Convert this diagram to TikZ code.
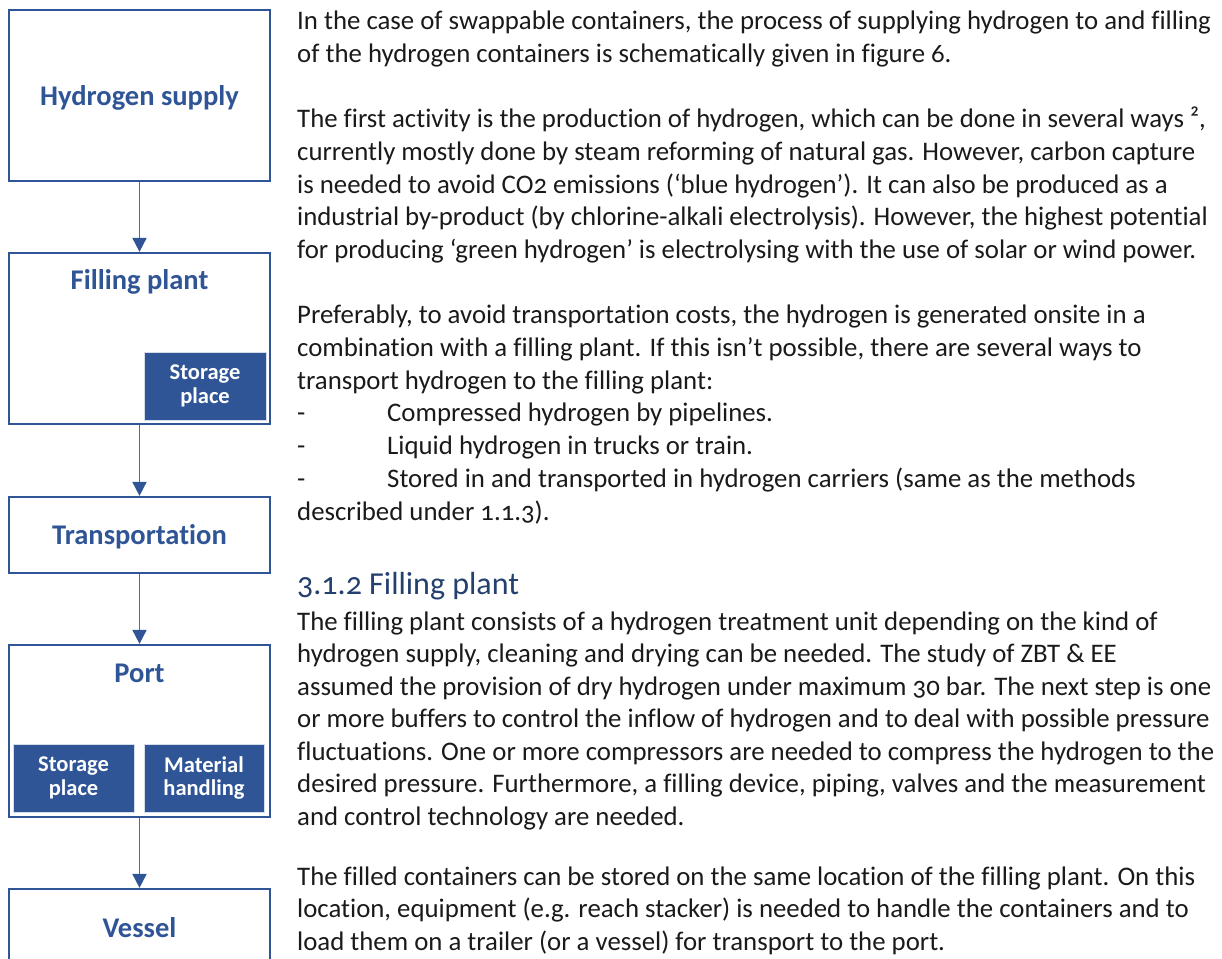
\documentclass[tikz,border=0pt]{standalone}
\usepackage{fontspec}
\setmainfont{Carlito}[Numbers=OldStyle,Ligatures=NoCommon]
\usetikzlibrary{arrows.meta}
\definecolor{boxblue}{HTML}{2F5597}
\definecolor{arrblue}{HTML}{4A6DAA}
\definecolor{bodytext}{HTML}{1A1A1A}
\definecolor{headblue}{HTML}{24406E}
\tikzset{
  box/.style={draw=boxblue, line width=2.2pt, minimum width=261pt, inner sep=0pt, fill=white},
  boxtitle/.style={text=boxblue, inner sep=0pt, font=\bfseries\fontsize{28.5}{31}\selectfont},
  subbox/.style={fill=boxblue, draw=white!80!boxblue, line width=1pt, text=white, inner sep=0pt,
    align=center, font=\bfseries\fontsize{22.5}{24}\selectfont},
  body/.style={anchor=base west, inner sep=0pt, text=bodytext, font=\fontsize{26.8}{30}\selectfont},
  heading/.style={anchor=base west, inner sep=0pt, text=headblue, font=\fontsize{32}{36}\selectfont},
  flow/.style={draw=arrblue, line width=1.8pt, -{Triangle[width=14pt,length=14pt,fill=boxblue,color=boxblue]}}
}
\begin{document}
\begin{tikzpicture}[x=1pt,y=-1pt]
\useasboundingbox (0,0) rectangle (1222,958);
\clip (0,0) rectangle (1222,958);
% left column
\node[box, minimum height=171pt] (hs) at (139.5,95.5) {};
\node[boxtitle] (hst) at (139.5,98) {Hydrogen supply};
\node[box, minimum height=171pt] (fp) at (139.5,338.5) {};
\node[boxtitle] (fpt) at (139.5,282) {Filling plant};
\node[subbox, minimum width=122pt, minimum height=68pt] (fpsp) at (205,386) {Storage\\place};
\node[box, minimum height=76pt] (tr) at (139.5,535) {};
\node[boxtitle] (trt) at (139.5,537) {Transportation};
\node[box, minimum height=172pt] (po) at (139.5,731) {};
\node[boxtitle] (pot) at (139.5,673) {Port};
\node[subbox, minimum width=121pt, minimum height=68pt] (posp) at (73.5,778) {Storage\\place};
\node[subbox, minimum width=120pt, minimum height=68pt] (pomh) at (204,778) {Material\\handling};
\node[box, minimum height=79pt] (vs) at (139.5,928.5) {};
\node[boxtitle] (vst) at (139.5,928) {Vessel};
\draw[flow] (hs.south) -- (fp.north);
\draw[flow] (fp.south) -- (tr.north);
\draw[flow] (tr.south) -- (po.north);
\draw[flow] (po.south) -- (vs.north);
% text column
\node[body] (l1) at (297,29.5) {In the case of swappable containers, the process of supplying hydrogen to and filling};
\node[body] (l2) at (297,62.2) {of the hydrogen containers is schematically given in figure 6.};
\node[body] (l4) at (297,127.6) {The first activity is the production of hydrogen, which can be done in several ways ²,};
\node[body] (l5) at (297,160.3) {currently mostly done by steam reforming of natural gas. However, carbon capture};
\node[body] (l6) at (297,193) {is needed to avoid CO2 emissions (‘blue hydrogen’). It can also be produced as a};
\node[body] (l7) at (297,225.7) {industrial by-product (by chlorine-alkali electrolysis). However, the highest potential};
\node[body] (l8) at (297,258.4) {for producing ‘green hydrogen’ is electrolysing with the use of solar or wind power.};
\node[body] (l10) at (297,323.8) {Preferably, to avoid transportation costs, the hydrogen is generated onsite in a};
\node[body] (l11) at (297,356.5) {combination with a filling plant. If this isn’t possible, there are several ways to};
\node[body] (l12) at (297,389.2) {transport hydrogen to the filling plant:};
\node[body] (d13) at (297,421.9) {-};
\node[body] (l13) at (387,421.9) {Compressed hydrogen by pipelines.};
\node[body] (d14) at (297,454.6) {-};
\node[body] (l14) at (387,454.6) {Liquid hydrogen in trucks or train.};
\node[body] (d15) at (297,487.3) {-};
\node[body] (l15) at (387,487.3) {Stored in and transported in hydrogen carriers (same as the methods};
\node[body] (l16) at (297,520) {described under 1.1.3).};
\node[heading] (h1) at (297,594) {3.1.2 Filling plant};
\node[body] (p1) at (297,630) {The filling plant consists of a hydrogen treatment unit depending on the kind of};
\node[body] (p2) at (297,662.5) {hydrogen supply, cleaning and drying can be needed. The study of ZBT \& EE};
\node[body] (p3) at (297,695) {assumed the provision of dry hydrogen under maximum 30 bar. The next step is one};
\node[body] (p4) at (297,727.5) {or more buffers to control the inflow of hydrogen and to deal with possible pressure};
\node[body] (p5) at (297,760) {fluctuations. One or more compressors are needed to compress the hydrogen to the};
\node[body] (p6) at (297,792.5) {desired pressure. Furthermore, a filling device, piping, valves and the measurement};
\node[body] (p7) at (297,825) {and control technology are needed.};
\node[body] (q1) at (297,885) {The filled containers can be stored on the same location of the filling plant. On this};
\node[body] (q2) at (297,917.5) {location, equipment (e.g. reach stacker) is needed to handle the containers and to};
\node[body] (q3) at (297,950) {load them on a trailer (or a vessel) for transport to the port.};
\end{tikzpicture}
\end{document}
